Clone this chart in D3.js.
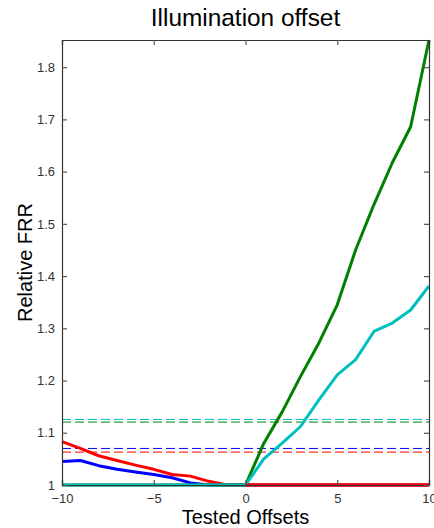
<!DOCTYPE html>
<html>
<head>
<meta charset="utf-8">
<script src="https://cdn.jsdelivr.net/npm/d3@7"></script>
<style>
  html, body { margin: 0; padding: 0; background: #fff; }
  svg { display: block; }
  text { font-family: "Liberation Sans", Arial, sans-serif; }
</style>
</head>
<body>
<svg id="chart" width="434" height="528"></svg>
<script>
// ---- data ----
const offsets = [-10,-9,-8,-7,-6,-5,-4,-3,-2,-1,0,1,2,3,4,5,6,7,8,9,10];
const blueFRR  = [1.045,1.047,1.037,1.030,1.025,1.020,1.014,1.004,1.000,1.000,1.000,1,1,1,1,1,1,1,1,1,1];
const redFRR   = [1.083,1.070,1.056,1.047,1.038,1.030,1.020,1.017,1.007,1.000,1.000,1,1,1,1,1,1,1,1,1,1];
const greenFRR = [1,1,1,1,1,1,1,1,1,1,1.000,1.080,1.140,1.208,1.272,1.345,1.450,1.537,1.617,1.686,1.852];
const cyanFRR  = [1,1,1,1,1,1,1,1,1,1,1.000,1.050,1.080,1.112,1.163,1.211,1.240,1.294,1.310,1.335,1.381];
const thresholds = { cyan: 1.1255, green: 1.1205, blue: 1.070, red: 1.063 };
const xTicks = [-10, -5, 0, 5, 10];
const yTicks = [1, 1.1, 1.2, 1.3, 1.4, 1.5, 1.6, 1.7, 1.8];

const colors = { blue: "#0000ff", green: "#008000", red: "#ff0000", cyan: "#00bfbf" };
const values = { blue: blueFRR, green: greenFRR, red: redFRR, cyan: cyanFRR };

// ---- layout ----
const svg = d3.select("#chart");
const L = 62, R = 429, T = 40, B = 485;
const yMax = d3.max(greenFRR.concat(cyanFRR, redFRR, blueFRR));
const x = d3.scaleLinear().domain([-10, 10]).range([L, R]);
const y = d3.scaleLinear().domain([1, yMax]).range([B, T]);

// dashed thresholds
["cyan", "green", "blue", "red"].forEach(k => {
  svg.append("line")
    .attr("x1", x(-10)).attr("x2", x(10))
    .attr("y1", y(thresholds[k])).attr("y2", y(thresholds[k]))
    .attr("stroke", colors[k]).attr("stroke-width", 1)
    .attr("stroke-dasharray", "9,4");
});

// solid lines
const line = d3.line().x((d, i) => x(offsets[i])).y(d => y(d));
["blue", "red", "green", "cyan"].forEach(k => {
  svg.append("path")
    .datum(values[k])
    .attr("d", line)
    .attr("fill", "none")
    .attr("stroke", colors[k])
    .attr("stroke-width", 3)
    .attr("stroke-linejoin", "round");
});
// red flat segment on top along the baseline (right side)
svg.append("path")
  .datum(redFRR.slice(10))
  .attr("d", d3.line().x((d, i) => x(offsets[i + 10])).y(d => y(d)))
  .attr("fill", "none").attr("stroke", colors.red).attr("stroke-width", 3);

// axes (ticks inward, box)
const tickLen = 5;
const axB = svg.append("g").attr("transform", `translate(0,${B})`)
  .call(d3.axisBottom(x).tickValues(xTicks).tickSize(-tickLen).tickPadding(9).tickFormat(d3.format("d")));
const axT = svg.append("g").attr("transform", `translate(0,${T})`)
  .call(d3.axisTop(x).tickValues(xTicks).tickSize(-tickLen).tickFormat(""));
const axL = svg.append("g").attr("transform", `translate(${L},0)`)
  .call(d3.axisLeft(y).tickValues(yTicks).tickSize(-tickLen).tickPadding(7).tickFormat(d => d === 1 ? "1" : d3.format(".1f")(d)));
const axR = svg.append("g").attr("transform", `translate(${R},0)`)
  .call(d3.axisRight(y).tickValues(yTicks).tickSize(-tickLen).tickFormat(""));

[axB, axT, axL, axR].forEach(g => {
  g.select(".domain").attr("stroke", "#333").attr("stroke-width", 1.2);
  g.selectAll(".tick line").attr("stroke", "#555").attr("stroke-width", 1.2);
  g.selectAll(".tick text").attr("fill", "#333").style("font-size", "13px")
    .style("font-family", "'Liberation Sans', Arial, sans-serif");
});
axB.selectAll(".tick text").attr("dy", "0.71em");

// titles
svg.append("text").attr("x", (L + R) / 2).attr("y", 26)
  .attr("text-anchor", "middle").style("font-size", "24.4px").attr("fill", "#000")
  .text("Illumination offset");
svg.append("text").attr("x", (L + R) / 2).attr("y", 524)
  .attr("text-anchor", "middle").style("font-size", "20px").attr("fill", "#000")
  .text("Tested Offsets");
svg.append("text")
  .attr("transform", `translate(32,${(T + B) / 2}) rotate(-90)`)
  .attr("text-anchor", "middle").style("font-size", "20px").attr("fill", "#000")
  .text("Relative FRR");
</script>
</body>
</html>
